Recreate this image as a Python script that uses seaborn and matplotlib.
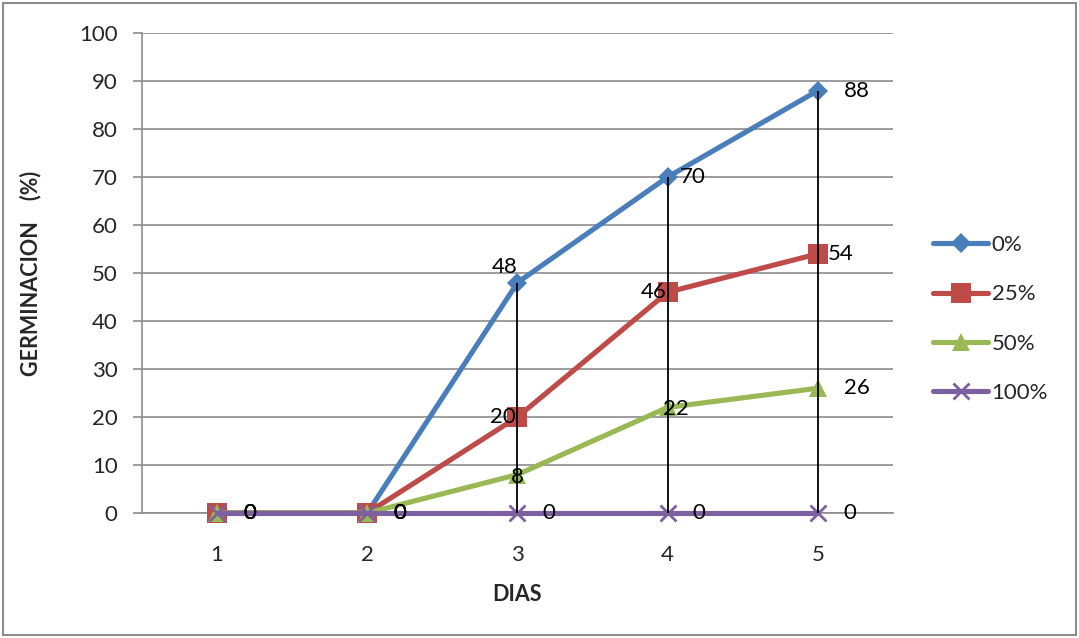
import matplotlib
matplotlib.use("Agg")
import matplotlib.pyplot as plt
import seaborn as sns
import pandas as pd
from matplotlib.patches import Rectangle

dias = [1, 2, 3, 4, 5]
serie_0 = [0, 0, 48, 70, 88]
serie_25 = [0, 0, 20, 46, 54]
serie_50 = [0, 0, 8, 22, 26]
serie_100 = [0, 0, 0, 0, 0]
nombres = ["0%", "25%", "50%", "100%"]

colores = ["#4A7EBB", "#BE4B48", "#98B954", "#7D60A0"]
marcadores = ["D", "s", "^", "x"]
tamanos = [10.5, 14, 13, 11]

series = [serie_0, serie_25, serie_50, serie_100]
df = pd.concat(
    [pd.DataFrame({"DIAS": dias, "valor": v, "serie": n}) for v, n in zip(series, nombres)],
    ignore_index=True,
)

sns.set_theme(style="white")
plt.rcParams["font.family"] = ["Lato", "DejaVu Sans"]

fig = plt.figure(figsize=(10.79, 6.38), dpi=100)
ax = fig.add_axes([0.1316, 0.1959, 0.6960, 0.7524])

for n, c, m, ms in zip(nombres, colores, marcadores, tamanos):
    sub = df[df["serie"] == n]
    sns.lineplot(
        data=sub, x="DIAS", y="valor", ax=ax, color=c, lw=3.7,
        marker=m, markersize=ms, markeredgecolor=c, markeredgewidth=2 if m == "x" else 0,
        label=n, zorder=3, clip_on=False,
    )

# drop lines from the highest to the lowest series at each day
for i, d in enumerate(dias):
    vals = [s[i] for s in series]
    if max(vals) > min(vals):
        ax.vlines(d, min(vals), max(vals), color="black", lw=1.3, zorder=4)

# value labels (offsets in points)
offsets = {
    "0%": [(19, 0, "left"), (19, 0, "left"), (0, 11, "right"), (9, 0, "left"), (19, 0, "left")],
    "25%": [(19, 0, "left"), (19, 0, "left"), (-1, 0, "right"), (-1, 0, "right"), (7, 0, "left")],
    "50%": [(19, 0, "left"), (19, 0, "left"), (0, -2, "center"), (6, -1, "center"), (19, 0, "left")],
    "100%": [(19, 0, "left"), (19, 0, "left"), (18, 0, "left"), (18, 0, "left"), (18, 0, "left")],
}
for v, n in zip(series, nombres):
    for d, y, (dx, dy, ha) in zip(dias, v, offsets[n]):
        ax.annotate(str(y), (d, y), xytext=(dx, dy), textcoords="offset points",
                    ha=ha, va="center", fontsize=16, color="black", zorder=5)

ax.set_xlim(0.5, 5.5)
ax.set_ylim(0, 100)
ax.set_xticks(dias)
ax.set_xticklabels([str(d) for d in dias])
ax.set_yticks(range(0, 101, 10))
ax.yaxis.grid(True, color="#8C8C8C", lw=1.2)
ax.xaxis.grid(False)
for s in ["top", "right"]:
    ax.spines[s].set_visible(False)
for s in ["left", "bottom"]:
    ax.spines[s].set_color("#8C8C8C")
    ax.spines[s].set_linewidth(1.2)
ax.tick_params(axis="y", left=True, length=6.5, width=1.2, color="#8C8C8C", labelsize=16, pad=11)
ax.tick_params(axis="x", bottom=False, labelsize=16, pad=17)

ax.set_xlabel("DIAS", fontsize=15.5, fontweight="bold", labelpad=14)
ax.set_ylabel("GERMINACION    (%)", fontsize=15.5, fontweight="bold", labelpad=27)

leg = ax.legend(loc="center left", bbox_to_anchor=(1.053, 0.404), frameon=False,
                fontsize=16, labelspacing=1.32, handlelength=2.5, handletextpad=0.15,
                borderpad=0, borderaxespad=0)

fig.patches.append(Rectangle((0.003, 0.005), 0.994, 0.99, transform=fig.transFigure,
                             fill=False, edgecolor="#8C8C8C", lw=1.5))

fig.savefig("out.png", dpi=100)
